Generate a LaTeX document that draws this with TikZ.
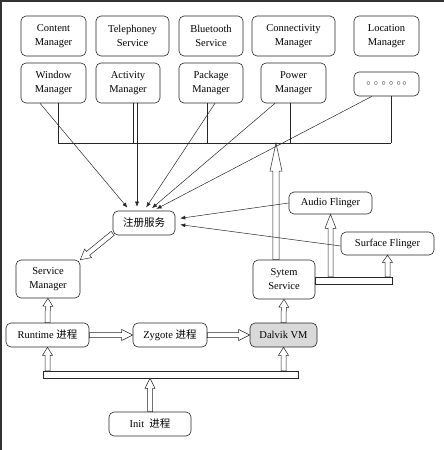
\documentclass[tikz,border=0pt]{standalone}
\usepackage{fontspec}
\setmainfont{Liberation Serif}
\newfontfamily\cjk{Noto Sans CJK SC}
\usetikzlibrary{calc,arrows.meta}
\tikzset{
  box/.style={draw=black!85, line width=0.6pt, rounded corners=5pt, fill=white, align=center, inner sep=0pt, font=\fontsize{10.5}{14}\selectfont},
  ln/.style={draw=black!85, line width=0.5pt},
  tip/.style={ln, -{Latex[length=5pt,width=4pt]}, shorten >=4pt},
  hl/.store in=\hdl, hl=8pt,
  hw/.store in=\hdw, hw=5pt,
  sw/.store in=\sdw, sw=2.5pt,
  hol/.style={ln, fill=white, to path={
     let \p1=(\tikztostart), \p2=(\tikztotarget),
         \n1={atan2(\y2-\y1,\x2-\x1)}, \n2={veclen(\x2-\x1,\y2-\y1)} in
     {[shift={(\p1)}, rotate=\n1]
     (0pt,-\sdw) -- (\n2*1pt-\hdl,-\sdw) -- (\n2*1pt-\hdl,-\hdw) -- (\n2*1pt,0pt) -- (\n2*1pt-\hdl,\hdw) -- (\n2*1pt-\hdl,\sdw) -- (0pt,\sdw) -- cycle}}},
  bar/.style={ln, fill=white, inner sep=0pt, rectangle}
}
\begin{document}
\begin{tikzpicture}[x=1pt,y=-1pt]
\useasboundingbox (0,0) rectangle (444,450);
\draw[line width=1.5pt, black!80] (0.75,450) -- (0.75,0.75) -- (444,0.75);

% top row
\node[box, minimum width=65pt, minimum height=40pt] (cm) at (53.5,36) {Content\\Manager};
\node[box, minimum width=73pt, minimum height=40pt] (ts) at (132.5,36) {Telephoney\\Service};
\node[box, minimum width=64pt, minimum height=40pt] (bs) at (211,36) {Bluetooth\\Service};
\node[box, minimum width=83pt, minimum height=40pt] (cn) at (293.5,36) {Connectivity\\Manager};
\node[box, minimum width=65pt, minimum height=40pt] (lm) at (386.5,36) {Location\\Manager};
% second row
\node[box, minimum width=65pt, minimum height=40pt] (wm) at (53.5,83) {Window\\Manager};
\node[box, minimum width=64pt, minimum height=40pt] (am) at (128,83) {Activity\\Manager};
\node[box, minimum width=64pt, minimum height=40pt] (pm) at (211,83) {Package\\Manager};
\node[box, minimum width=65pt, minimum height=40pt] (pw) at (293.5,83) {Power\\Manager};
\node[box, minimum width=65pt, minimum height=24pt] (dots) at (386.5,84) {\fontsize{8}{8}\selectfont$\circ\,\circ\,\circ\,\circ\,\circ\,\circ$};

% middle
\node[box, minimum width=62pt, minimum height=24pt] (reg) at (144,223) {\cjk 注册服务};
\node[box, minimum width=83pt, minimum height=22pt] (af) at (330.5,203) {Audio Flinger};
\node[box, minimum width=93pt, minimum height=23pt] (sf) at (387.5,243.5) {Surface Flinger};
\node[box, minimum width=64pt, minimum height=38pt] (smg) at (48,279) {Service\\Manager};
\node[box, minimum width=62pt, minimum height=39pt] (ss) at (284,279.5) {Sytem\\Service};

% bottom
\node[box, minimum width=83pt, minimum height=24pt] (rt) at (47.5,335) {Runtime {\cjk 进程}};
\node[box, minimum width=74pt, minimum height=24pt] (zy) at (170,335) {Zygote {\cjk 进程}};
\node[box, minimum width=67pt, minimum height=24pt, fill=black!15] (dv) at (283.5,335) {Dalvik VM};
\node[box, minimum width=82pt, minimum height=24pt] (init) at (150,424) {Init\ \ {\cjk 进程}};

% bars
\node[bar, minimum width=255pt, minimum height=7pt] (bar) at (170.5,374.5) {};
\node[bar, minimum width=77pt, minimum height=7pt] (sbar) at (353.5,280.5) {};

% bus
\coordinate (busL) at (58,143);
\coordinate (busR) at (391,143);

% hollow arrows
\draw[hol, hl=28pt, hw=6pt, sw=3.2pt] ([xshift=-8pt]ss.north) to ([xshift=-8pt]ss.north |- busL);
\draw[hol, hl=10pt, hw=5.5pt] ([yshift=2pt]reg.south west) to (smg.north east);
\draw[hol] (rt.north) to (smg.south);
\draw[hol, hl=11pt, hw=5.5pt] (rt.east) to (zy.west);
\draw[hol, hl=11pt, hw=5.5pt] (zy.east) to (dv.west);
\draw[hol] (dv.north) to (ss.south);
\draw[hol] (rt.south |- bar.north) to (rt.south);
\draw[hol] (dv.south |- bar.north) to (dv.south);
\draw[hol, hl=10pt] (init.north) to (init.north |- bar.south);
\draw[hol, hl=14pt, hw=5.5pt] (af.south |- sbar.north) to (af.south);
\draw[hol, hl=7pt] (sf.south |- sbar.north) to (sf.south);

% bus lines
\draw[ln] (busL) -- (busR);
\draw[ln] ([xshift=4.5pt]wm.south) -- ([xshift=4.5pt]wm.south |- busL);
\draw[ln] ([xshift=5pt]am.south) -- ([xshift=5pt]am.south |- busL);
\draw[ln] ([xshift=-4pt]pm.south) -- ([xshift=-4pt]pm.south |- busL);
\draw[ln] ([xshift=-3.5pt]pw.south) -- ([xshift=-3.5pt]pw.south |- busL);
\draw[ln] ([xshift=4.5pt]dots.south) -- ([xshift=4.5pt]dots.south |- busL);

% registrations
\draw[tip] ([xshift=-13.5pt]wm.south) -- ([xshift=-14pt]reg.north);
\draw[tip] ([xshift=9pt]am.south) -- ([xshift=-7pt]reg.north);
\draw[tip] ([xshift=4pt]pm.south) -- (reg.north);
\draw[tip] ([xshift=-18.5pt]pw.south) -- ([xshift=5pt]reg.north);
\draw[tip] ([xshift=-14.5pt]dots.south) -- ([xshift=9pt]reg.north);
\draw[tip, shorten >=5pt] (af.west) -- ([yshift=4pt]reg.east);
\draw[tip, shorten >=5pt] ([yshift=-2.5pt]sf.west) -- ([yshift=-1pt]reg.east);
\end{tikzpicture}
\end{document}
